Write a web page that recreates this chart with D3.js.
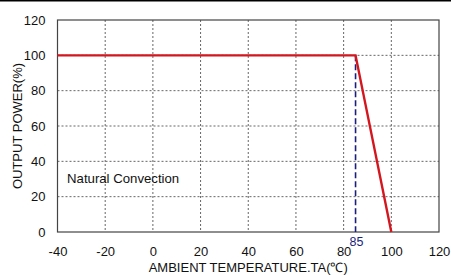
<!DOCTYPE html>
<html>
<head>
<meta charset="utf-8">
<script src="https://cdn.jsdelivr.net/npm/d3@7"></script>
<style>
  html, body { margin: 0; padding: 0; background: #fff; }
  svg { display: block; }
</style>
</head>
<body>
<div id="chart"></div>
<script>
// derating curve: temperature (°C) vs output power (%)
const tempValues = [-40, 85, 100];
const powerValues = [100, 100, 0];
const xTicks = [-40, -20, 0, 20, 40, 60, 80, 100, 120];
const yTicks = [0, 20, 40, 60, 80, 100, 120];
const markerTemp = [85];
const xTitle = "AMBIENT TEMPERATURE.TA(\u2103)";
const yTitle = "OUTPUT POWER(%)";
const noteText = "Natural Convection";

const W = 451, H = 275;
const plot = { left: 57.5, right: 439, top: 20, bottom: 232 };
const FONT = "Liberation Sans, Arial, sans-serif";

const svg = d3.select("#chart").append("svg")
  .attr("width", W)
  .attr("height", H);

// thin black rule along the top edge
svg.append("rect")
  .attr("x", 0).attr("y", 0)
  .attr("width", W).attr("height", 1.5)
  .attr("fill", "#000");

const x = d3.scaleLinear().domain([-40, 120]).range([plot.left, plot.right]);
const y = d3.scaleLinear().domain([0, 120]).range([plot.bottom, plot.top]);

// GRID
const grid = svg.append("g");
grid.selectAll("line.vg")
  .data(xTicks.slice(1, -1))
  .join("line")
  .attr("x1", d => x(d)).attr("x2", d => x(d))
  .attr("y1", plot.top).attr("y2", plot.bottom)
  .attr("stroke", "#666").attr("stroke-width", 1)
  .attr("stroke-dasharray", "2,2");
grid.selectAll("line.hg")
  .data(yTicks.slice(1, -1))
  .join("line")
  .attr("x1", plot.left).attr("x2", plot.right)
  .attr("y1", d => y(d)).attr("y2", d => y(d))
  .attr("stroke", "#666").attr("stroke-width", 1)
  .attr("stroke-dasharray", "2,2");

// AXES (labels only, frame drawn below)
const xAxis = svg.append("g")
  .attr("transform", `translate(0,${plot.bottom})`)
  .call(d3.axisBottom(x).tickValues(xTicks).tickFormat(d => String(d)).tickSize(0).tickPadding(15));
const yAxis = svg.append("g")
  .attr("transform", `translate(${plot.left},0)`)
  .call(d3.axisLeft(y).tickValues(yTicks).tickFormat(d => String(d)).tickSize(0).tickPadding(12));
[xAxis, yAxis].forEach(a => {
  a.select(".domain").remove();
  a.selectAll("text")
    .attr("font-family", FONT)
    .attr("font-size", 13)
    .attr("fill", "#111");
});

// frame
svg.append("rect")
  .attr("x", plot.left).attr("y", plot.top)
  .attr("width", plot.right - plot.left)
  .attr("height", plot.bottom - plot.top)
  .attr("fill", "none")
  .attr("stroke", "#444").attr("stroke-width", 1.2);

// marker at 85
svg.selectAll("line.marker")
  .data(markerTemp)
  .join("line")
  .attr("x1", d => x(d)).attr("x2", d => x(d))
  .attr("y1", y(100)).attr("y2", plot.bottom)
  .attr("stroke", "#1c1f7a").attr("stroke-width", 1.6)
  .attr("stroke-dasharray", "6,3");
svg.selectAll("text.marker")
  .data(markerTemp)
  .join("text")
  .attr("x", d => x(d) + 1)
  .attr("y", plot.bottom + 14)
  .attr("text-anchor", "middle")
  .attr("font-family", FONT)
  .attr("font-size", 12.5)
  .attr("fill", "#1c1f7a")
  .text(d => d);

// derating line
const pts = tempValues.map((t, i) => [t, powerValues[i]]);
svg.append("path")
  .datum(pts)
  .attr("fill", "none")
  .attr("stroke", "#d4161e")
  .attr("stroke-width", 2.4)
  .attr("stroke-linejoin", "miter")
  .attr("d", d3.line().x(d => x(d[0])).y(d => y(d[1])));

// note
svg.append("text")
  .attr("x", x(-36))
  .attr("y", y(30) + 4)
  .attr("font-family", FONT)
  .attr("font-size", 13.2)
  .attr("fill", "#111")
  .text(noteText);

// axis titles
svg.append("text")
  .attr("x", (plot.left + plot.right) / 2)
  .attr("y", 271.5)
  .attr("text-anchor", "middle")
  .attr("font-family", FONT)
  .attr("font-size", 13)
  .attr("fill", "#111")
  .text(xTitle);
svg.append("text")
  .attr("transform", `translate(22,${(plot.top + plot.bottom) / 2}) rotate(-90)`)
  .attr("text-anchor", "middle")
  .attr("font-family", FONT)
  .attr("font-size", 13)
  .attr("fill", "#111")
  .text(yTitle);
</script>
</body>
</html>
